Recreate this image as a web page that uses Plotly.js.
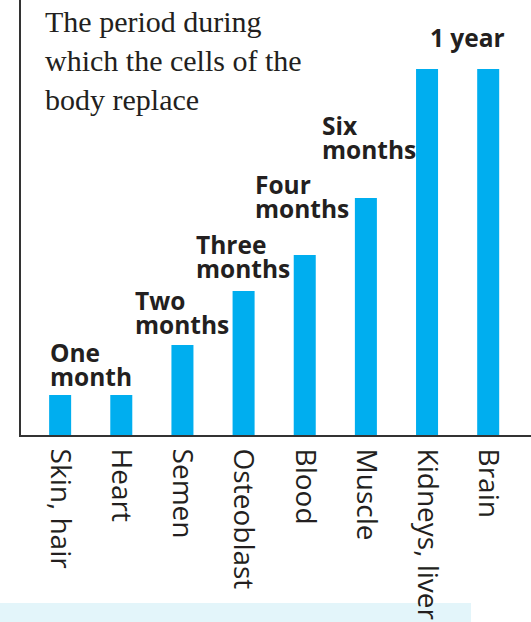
<!DOCTYPE html>
<html>
<head>
<meta charset="utf-8">
<script src="https://cdn.plot.ly/plotly-3.0.1.min.js"></script>
<style>html,body{margin:0;padding:0;background:#fff;}#chart{width:531px;height:622px;}</style>
</head>
<body>
<div id="chart"></div>
<script>
// Data (bar heights in relative units, baseline = 0)
const categories = ['Skin, hair', 'Heart', 'Semen', 'Osteoblast', 'Blood', 'Muscle', 'Kidneys, liver', 'Brain'];
const barHeights = [40, 40, 90, 144, 180, 237, 366, 366];
const periodText = ['One\nmonth', 'Two\nmonths', 'Three\nmonths', 'Four\nmonths', 'Six\nmonths', '1 year'];
const periodBar = ['Skin, hair', 'Semen', 'Osteoblast', 'Blood', 'Muscle', 'Brain'];
const chartTitle = 'The period during<br>which the cells of the<br>body replace';

// Layout styling for the labels (pixel offsets)
const labelXShift = [-12, -49, -50, -52, -46, 19];
const labelXAnchor = ['left', 'left', 'left', 'left', 'left', 'right'];
const labelGap = [10, 12, 14, 38, 40, 23];
const lineStep = 24;
const TEXT = '#231f20';

const annotations = [{
  xref: 'paper', yref: 'paper', x: 22 / 510, y: 1, xanchor: 'left', yanchor: 'top',
  yshift: -3, align: 'left', showarrow: false, text: chartTitle,
  font: {family: 'Liberation Serif', size: 30, color: TEXT}
}];
periodText.forEach((t, i) => {
  const lines = t.split('\n');
  const idx = categories.indexOf(periodBar[i]);
  lines.forEach((ln, j) => {
    const fromBottom = lines.length - 1 - j;
    annotations.push({
      x: periodBar[i], y: barHeights[idx], xref: 'x', yref: 'y',
      text: '<b>' + ln + '</b>', showarrow: false,
      xanchor: labelXAnchor[i], yanchor: 'bottom',
      xshift: labelXShift[i], yshift: labelGap[i] - 10 + fromBottom * lineStep,
      font: {family: 'Open Sans', size: 24.5, color: TEXT}
    });
  });
});

const trace = {
  type: 'bar', x: categories, y: barHeights,
  marker: {color: '#00aeef', line: {width: 0}},
  width: 0.36, hoverinfo: 'none'
};

const layout = {
  width: 531, height: 622,
  margin: {l: 21, r: 0, t: 0, b: 187},
  paper_bgcolor: '#ffffff', plot_bgcolor: '#ffffff',
  showlegend: false,
  xaxis: {
    type: 'category', range: [-0.64, 7.7],
    showline: true, linecolor: '#333333', linewidth: 2,
    showgrid: false, zeroline: false, ticks: '',
    tickangle: 90, ticklabelstandoff: 6,
    tickfont: {family: 'Open Sans', size: 28, color: TEXT}
  },
  yaxis: {
    range: [0, 435], showline: true, linecolor: '#333333', linewidth: 2,
    showgrid: false, zeroline: false, showticklabels: false, ticks: ''
  },
  shapes: [{
    type: 'rect', xref: 'paper', yref: 'paper', layer: 'below',
    x0: -21 / 510, x1: 450 / 510, y0: -168 / 435, y1: -190 / 435,
    fillcolor: '#e3f5fa', line: {width: 0}
  }],
  annotations: annotations
};

Plotly.newPlot('chart', [trace], layout, {staticPlot: true, displayModeBar: false});
</script>
</body>
</html>
